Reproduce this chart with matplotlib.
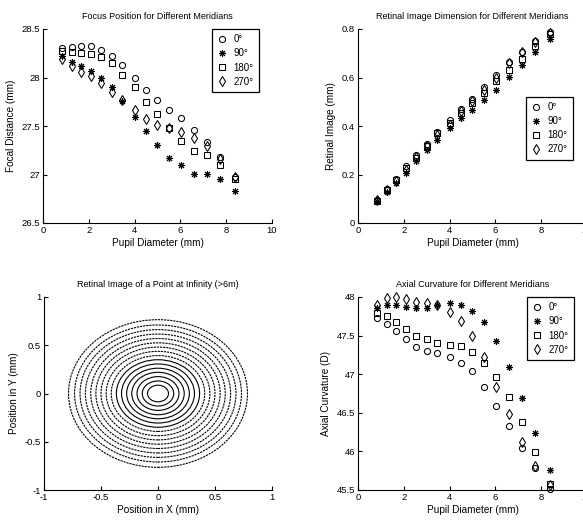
import matplotlib
matplotlib.use("Agg")
import matplotlib.pyplot as plt
from matplotlib.patches import Ellipse

plt.rcParams['font.family'] = ['Liberation Sans', 'DejaVu Sans']

# ---------------- data ----------------
pupil = [0.84, 1.27, 1.66, 2.08, 2.55, 3.0, 3.47, 4.0, 4.51, 4.98, 5.52, 6.04, 6.6, 7.15, 7.72, 8.37]
meridians = ['0°', '90°', '180°', '270°']

focus_0   = [28.30, 28.31, 28.32, 28.32, 28.28, 28.22, 28.13, 28.00, 27.87, 27.77, 27.66, 27.58, 27.46, 27.34, 27.18, 26.97]
focus_90  = [28.22, 28.16, 28.12, 28.07, 28.00, 27.90, 27.76, 27.59, 27.45, 27.30, 27.17, 27.10, 27.01, 27.01, 26.95, 26.83]
focus_180 = [28.27, 28.26, 28.25, 28.24, 28.21, 28.15, 28.03, 27.90, 27.75, 27.62, 27.48, 27.35, 27.24, 27.20, 27.10, 26.95]
focus_270 = [28.19, 28.12, 28.06, 28.02, 27.94, 27.85, 27.77, 27.66, 27.57, 27.51, 27.48, 27.44, 27.38, 27.29, 27.16, 26.97]

retina_0   = [0.096, 0.142, 0.183, 0.234, 0.279, 0.327, 0.377, 0.423, 0.471, 0.513, 0.561, 0.612, 0.663, 0.704, 0.749, 0.786]
retina_90  = [0.089, 0.128, 0.165, 0.206, 0.254, 0.300, 0.344, 0.392, 0.433, 0.465, 0.509, 0.550, 0.602, 0.652, 0.705, 0.760]
retina_180 = [0.092, 0.135, 0.176, 0.227, 0.268, 0.316, 0.371, 0.412, 0.454, 0.495, 0.536, 0.584, 0.630, 0.676, 0.728, 0.780]
retina_270 = [0.096, 0.135, 0.172, 0.220, 0.272, 0.316, 0.364, 0.405, 0.460, 0.502, 0.550, 0.598, 0.660, 0.704, 0.745, 0.783]

curv_0   = [47.73, 47.65, 47.56, 47.45, 47.35, 47.30, 47.27, 47.22, 47.15, 47.04, 46.84, 46.59, 46.33, 46.05, 45.78, 45.51]
curv_90  = [47.86, 47.90, 47.89, 47.87, 47.86, 47.86, 47.89, 47.92, 47.90, 47.82, 47.68, 47.43, 47.09, 46.69, 46.24, 45.76]
curv_180 = [47.79, 47.76, 47.68, 47.59, 47.50, 47.45, 47.41, 47.38, 47.36, 47.29, 47.15, 46.96, 46.70, 46.38, 45.99, 45.58]
curv_270 = [47.90, 47.99, 48.00, 47.97, 47.94, 47.92, 47.89, 47.81, 47.69, 47.49, 47.22, 46.83, 46.48, 46.12, 45.81, 45.57]

# contour rings of the point image (semi-axes in mm)
ring_rx = [0.092, 0.138, 0.184, 0.230, 0.275, 0.320, 0.365, 0.410, 0.455, 0.500, 0.545, 0.590, 0.637, 0.684, 0.732, 0.785]
ring_ry = [0.086, 0.130, 0.175, 0.220, 0.262, 0.306, 0.350, 0.393, 0.437, 0.481, 0.525, 0.570, 0.616, 0.662, 0.710, 0.765]

# ---------------- figure ----------------
W, H = 583, 522
fig = plt.figure(figsize=(W / 100, H / 100), dpi=100)

def make_ax(l, t, w, h):
    return fig.add_axes([l / W, (H - t - h) / H, w / W, h / H])

ax1 = make_ax(43, 29, 229, 194)
ax2 = make_ax(358, 29, 229, 194)
ax3 = make_ax(44, 297, 228, 193)
ax4 = make_ax(358, 297, 229, 193)

TFS = 6.5   # titles
KFS = 6.8   # tick labels
LFS = 7.2   # axis labels
GFS = 7.0   # legend
markers = ['o', (8, 2, 0), 's', 'd']
msizes = [4.4, 5.0, 4.4, 5.0]

def style(ax, title, xlabel, ylabel):
    for s in ['top', 'right']:
        ax.spines[s].set_visible(False)
    for s in ['left', 'bottom']:
        ax.spines[s].set_linewidth(0.8)
    ax.tick_params(direction='in', length=3, width=0.8, labelsize=KFS, pad=2)
    ax.set_title(title, fontsize=TFS, pad=7)
    ax.set_xlabel(xlabel, fontsize=LFS, labelpad=2)
    ax.set_ylabel(ylabel, fontsize=LFS, labelpad=4)

def scatter_set(ax, series):
    for ys, m, ms, lab in zip(series, markers, msizes, meridians):
        ax.plot(pupil, ys, linestyle='none', marker=m, markersize=ms,
                markerfacecolor='none', markeredgecolor='black',
                markeredgewidth=0.75, color='black', label=lab, clip_on=False)

def legend(ax, anchor):
    leg = ax.legend(loc='upper right', bbox_to_anchor=anchor, borderaxespad=0,
                    fontsize=GFS, handlelength=1.0, handletextpad=0.7,
                    borderpad=0.55, labelspacing=0.42, fancybox=False,
                    framealpha=1, edgecolor='black')
    leg.get_frame().set_linewidth(0.9)

# Focus position
scatter_set(ax1, [focus_0, focus_90, focus_180, focus_270])
ax1.set_xlim(0, 10)
ax1.set_ylim(26.5, 28.5)
ax1.set_xticks([0, 2, 4, 6, 8, 10])
ax1.set_yticks([26.5, 27, 27.5, 28, 28.5])
ax1.set_yticklabels(['26.5', '27', '27.5', '28', '28.5'])
style(ax1, 'Focus Position for Different Meridians', 'Pupil Diameter (mm)', 'Focal Distance (mm)')
legend(ax1, (0.943, 1.0))

# Retinal image dimension
scatter_set(ax2, [retina_0, retina_90, retina_180, retina_270])
ax2.set_xlim(0, 10)
ax2.set_ylim(0, 0.8)
ax2.set_xticks([0, 2, 4, 6, 8, 10])
ax2.set_yticks([0, 0.2, 0.4, 0.6, 0.8])
ax2.set_yticklabels(['0', '0.2', '0.4', '0.6', '0.8'])
style(ax2, 'Retinal Image Dimension for Different Meridians', 'Pupil Diameter (mm)', 'Retinal Image (mm)')
legend(ax2, (0.939, 0.65))

# Point image contour
for i, (rx, ry) in enumerate(zip(ring_rx, ring_ry)):
    ls = '-' if i < 7 else (0, (2.0, 0.8))
    lw = 0.8
    ax3.add_patch(Ellipse((0, 0), 2 * rx, 2 * ry, fill=False, edgecolor='black',
                          linewidth=lw, linestyle=ls))
ax3.set_xlim(-1, 1)
ax3.set_ylim(-1, 1)
ax3.set_xticks([-1, -0.5, 0, 0.5, 1])
ax3.set_xticklabels(['-1', '-0.5', '0', '0.5', '1'])
ax3.set_yticks([-1, -0.5, 0, 0.5, 1])
ax3.set_yticklabels(['-1', '-0.5', '0', '0.5', '1'])
style(ax3, 'Retinal Image of a Point at Infinity (>6m)', 'Position in X (mm)', 'Position in Y (mm)')

# Axial curvature
scatter_set(ax4, [curv_0, curv_90, curv_180, curv_270])
ax4.set_xlim(0, 10)
ax4.set_ylim(45.5, 48)
ax4.set_xticks([0, 2, 4, 6, 8, 10])
ax4.set_yticks([45.5, 46, 46.5, 47, 47.5, 48])
ax4.set_yticklabels(['45.5', '46', '46.5', '47', '47.5', '48'])
style(ax4, 'Axial Curvature for Different Meridians', 'Pupil Diameter (mm)', 'Axial Curvature (D)')
legend(ax4, (0.943, 1.0))

fig.savefig('out.png', dpi=100)
